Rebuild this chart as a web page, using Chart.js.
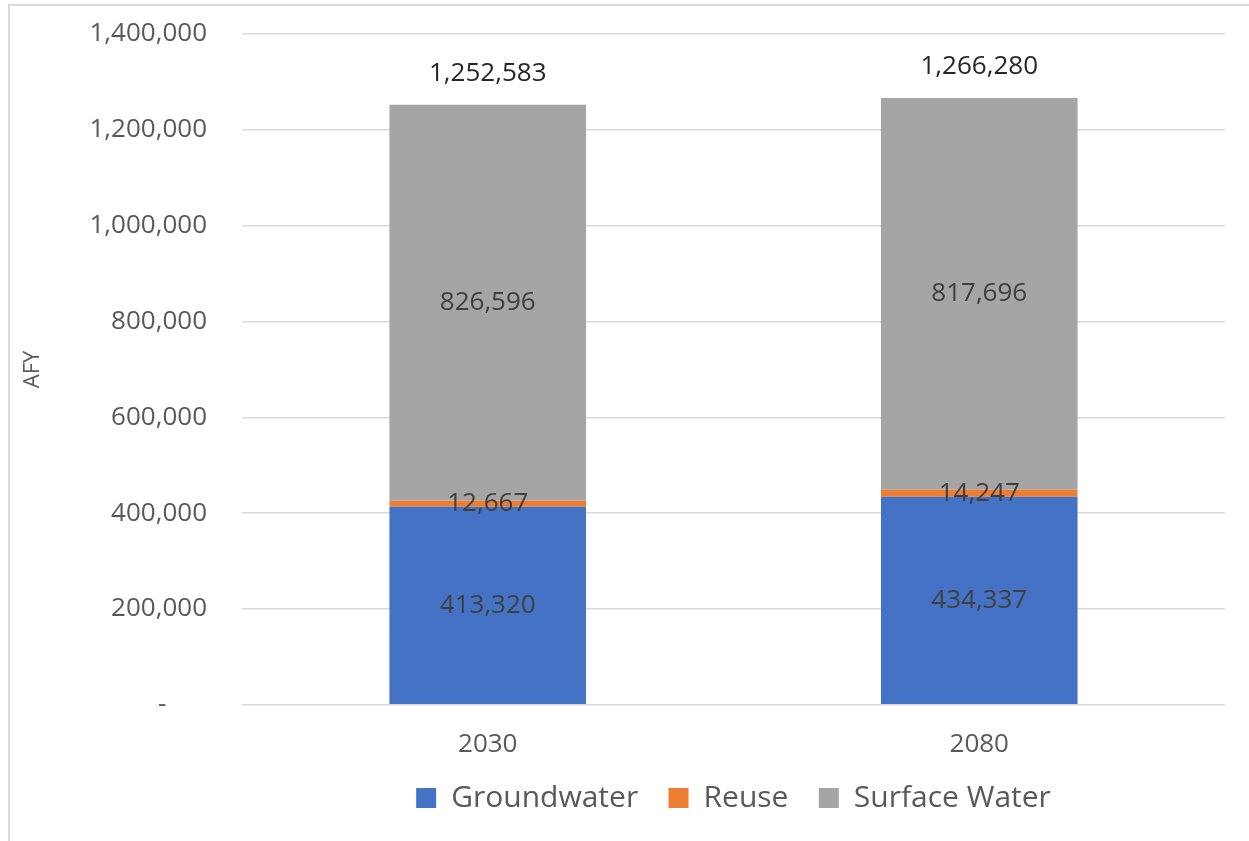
<!DOCTYPE html>
<html>
<head>
<meta charset="utf-8">
<script src="https://cdn.jsdelivr.net/npm/chart.js@4.4.0/dist/chart.umd.min.js"></script>
<style>
  html, body { margin: 0; padding: 0; background: #fff; }
  #wrap { position: absolute; left: 0; top: 0; width: 1249px; height: 841px; }
  #frame { position: absolute; left: 8px; top: 4px; width: 1260px; height: 900px; border-left: 2px solid #D9D9D9; border-top: 2px solid #D9D9D9; }
</style>
</head>
<body>
<div id="wrap">
  <div id="frame"></div>
  <canvas id="chart" width="1249" height="841"></canvas>
</div>
<script>
const years = ['2030', '2080']
const groundwater = [413320, 434337]
const reuse = [12667, 14247]
const surfaceWater = [826596, 817696]
const totals = [1252583, 1266280]
const yTicks = [0, 200000, 400000, 600000, 800000, 1000000, 1200000, 1400000]

const fontFamily = "'Open Sans', 'Noto Sans', sans-serif"
const fmt = (v) => v.toLocaleString('en-US')

// labels in the middle of each segment and totals on top
const barLabels = {
    id: 'barLabels',
    afterDatasetsDraw(chart) {
        const ctx = chart.ctx
        ctx.save()
        ctx.font = '26px ' + fontFamily
        ctx.textAlign = 'center'
        ctx.textBaseline = 'middle'
        ctx.fillStyle = '#404040'
        chart.data.datasets.forEach((ds, i) => {
            chart.getDatasetMeta(i).data.forEach((bar, j) => {
                const mid = (bar.y + bar.base) / 2
                ctx.fillText(fmt(ds.data[j]), bar.x, mid)
            })
        })
        const top = chart.getDatasetMeta(chart.data.datasets.length - 1)
        ctx.fillStyle = '#262626'
        top.data.forEach((bar, j) => {
            ctx.fillText(fmt(totals[j]), bar.x, chart.scales.y.getPixelForValue(totals[j]) - 31)
        })
        ctx.restore()
    }
}

new Chart(document.getElementById('chart').getContext('2d'), {
    type: 'bar',
    data: {
        labels: years,
        datasets: [
            { label: 'Groundwater', data: groundwater, backgroundColor: '#4472C4' },
            { label: 'Reuse', data: reuse, backgroundColor: '#ED7D31' },
            { label: 'Surface Water', data: surfaceWater, backgroundColor: '#A5A5A5' },
        ]
    },
    options: {
        responsive: false,
        animation: false,
        layout: { padding: { top: 34, right: 24, bottom: 18, left: 0 } },
        datasets: { bar: { barPercentage: 0.4, categoryPercentage: 1 } },
        plugins: {
            tooltip: { enabled: false },
            legend: {
                position: 'bottom',
                fullSize: false,
                labels: {
                    color: '#595959',
                    font: { family: fontFamily, size: 30 },
                    boxWidth: 20,
                    boxHeight: 20,
                    padding: 7,
                    generateLabels: (chart) => {
                        const items = Chart.defaults.plugins.legend.labels.generateLabels(chart)
                        items.forEach((it, i) => { if (i < items.length - 1) it.text += '   ' })
                        return items
                    }
                }
            }
        },
        scales: {
            x: {
                stacked: true,
                grid: { display: false },
                border: { display: false },
                ticks: { color: '#595959', font: { family: fontFamily, size: 26 }, padding: 16 }
            },
            y: {
                stacked: true,
                min: 0,
                max: 1400000,
                afterFit: (scale) => {
                    scale.width = 242
                    scale.paddingTop = 0
                    scale.paddingBottom = 0
                },
                afterBuildTicks: (scale) => { scale.ticks = yTicks.map((v) => ({ value: v })) },
                border: { display: false },
                grid: { color: '#D9D9D9', lineWidth: 1.5, drawTicks: false },
                ticks: {
                    color: '#595959',
                    font: { family: fontFamily, size: 26 },
                    padding: 35,
                    callback: (v) => v === 0 ? '-      ' : fmt(v)
                },
                title: {
                    display: true,
                    text: 'AFY',
                    color: '#595959',
                    font: { family: fontFamily, size: 22 },
                    padding: { top: 20, bottom: 0 }
                }
            }
        }
    },
    plugins: [barLabels]
});
</script>
</body>
</html>
